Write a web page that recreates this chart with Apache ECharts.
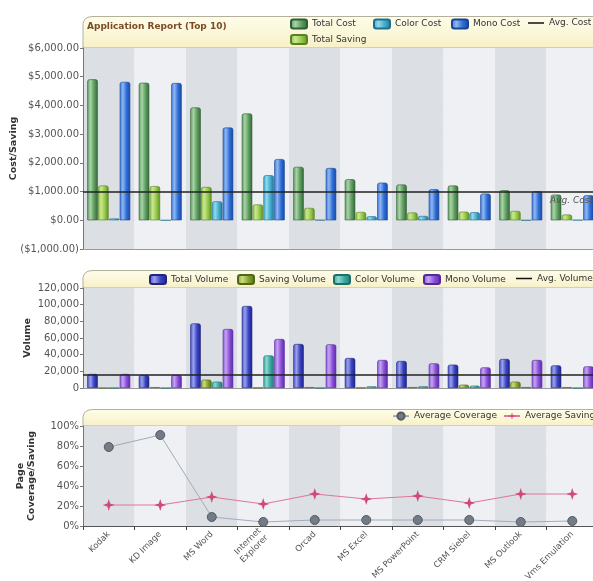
<!DOCTYPE html>
<html><head><meta charset="utf-8">
<script src="https://cdn.jsdelivr.net/npm/echarts@6/dist/echarts.min.js"></script>
<style>html,body{margin:0;padding:0;background:#fff}#c{width:593px;height:581px}</style>
</head><body><div id="c"></div>
<script>
// ---- data ----
const categories = ['Kodak','KD Image','MS Word','Internet\nExplorer','Orcad','MS Excel','MS PowerPoint','CRM Siebel','MS Outlook','Vms Emulation'];
const totalCost   = [4910, 4790, 3930, 3720, 1860, 1430, 1245, 1210, 1045, 895];
const totalSaving = [1210, 1190, 1160, 550, 430, 290, 270, 300, 325, 200];
const colorCost   = [60, 0, 660, 1570, 10, 140, 150, 280, 0, 10];
const monoCost    = [4820, 4780, 3230, 2130, 1820, 1310, 1080, 930, 1010, 870];
const avgCost = 1010;

const totalVolume  = [16800, 15600, 77500, 98400, 52800, 36000, 32400, 28000, 34800, 27200];
const savingVolume = [0, 1000, 10000, 500, 1000, 500, 1000, 4000, 7600, 1000];
const colorVolume  = [0, 0, 7600, 39100, 0, 2000, 2000, 2800, 1000, 0];
const monoVolume   = [16800, 15600, 70800, 58800, 52400, 33600, 29600, 24800, 33600, 26000];
const avgVolume = 16300;

const avgCoverage = [79, 91, 9, 4, 6, 6, 6, 6, 4, 5];
const avgSaving   = [21, 21, 29, 22, 32, 27, 30, 23, 32, 32];

// ---- chart ----
const FONT = 'DejaVu Sans';
const chart = echarts.init(document.getElementById('c'));
function grad(a,b,c,d){return new echarts.graphic.LinearGradient(0,0,1,0,[{offset:0,color:a},{offset:0.3,color:b},{offset:0.65,color:c},{offset:1,color:d}]);}
function commas(s){return s.replace(/\B(?=(\d{3})+(?!\d))/g, ',');}
function money(v){const s='$'+commas(Math.abs(v).toFixed(2)); return v<0?'('+s+')':s;}
function header(y0,y1){
  return {type:'polygon', z:-1, shape:{points:[[83,y1],[83,y0+7],[84.5,y0+3],[88,y0+0.7],[93,y0],[640,y0],[640,y1]]},
    style:{fill:new echarts.graphic.LinearGradient(0,0,0,1,[{offset:0,color:'#fffdeb'},{offset:1,color:'#f7f0c6'}]), stroke:'#b3b19c', lineWidth:1}};
}
const LINE_ICON = 'path://M0,0 L0.05,0 L0,0.05 Z M0,4 L20,4 L20,6 L0,6 Z M20,10 L19.95,10 L20,9.95 Z';
const gbase = {left:83, right:-5, containLabel:false, outerBoundsMode:'none'};
const grids = [
  Object.assign({top:48, height:201}, gbase),
  Object.assign({top:288, height:100}, gbase),
  Object.assign({top:426, height:100}, gbase)
];
function xAx(i, labels){
  return {type:'category', gridIndex:i, data:categories,
    splitArea:{show:true, interval:0, areaStyle:{color:['#dcdfe3','#eef0f3']}},
    axisLine:{onZero:false, lineStyle:{color: labels?'#555':'#999'}},
    axisTick:{show:labels, interval:0, length:4, lineStyle:{color:'#444'}},
    axisLabel: labels ? {show:true, interval:0, rotate:45, fontFamily:FONT, fontSize:8.5, color:'#555', margin:7, lineHeight:10} : {show:false, interval:0}
  };
}
function lab(fmt){return {fontFamily:FONT, fontSize:10, color:'#555', margin:4, formatter:fmt};}
function yAx(i, o){
  return Object.assign({type:'value', gridIndex:i, nameLocation:'middle', nameMoveOverlap:false,
    nameTextStyle:{fontFamily:FONT, fontSize:9.5, fontWeight:'bold', color:'#333', lineHeight:11},
    axisLine:{show:true, lineStyle:{color:'#777'}},
    axisTick:{show:true, length:3, lineStyle:{color:'#777'}},
    splitLine:{lineStyle:{color:'#e0e3e7'}}
  }, o);
}
function bar(name, data, gi, g, border){
  return {name, type:'bar', xAxisIndex:gi, yAxisIndex:gi, data, barWidth:10.5, barGap:'3%',
    itemStyle:{color:g, borderColor:border, borderWidth:0.6, borderRadius:[2,2,0,0]}};
}
function legend(name, left, top, icon){
  return {left, top, padding:0, itemWidth:16, itemHeight:9, selectedMode:false,
    textStyle:{fontFamily:FONT, fontSize:9, color:'#333'},
    data:[icon ? {name, icon} : {name}]};
}
const option = {
  animation:false,
  backgroundColor:'#fff',
  title:{text:'Application Report (Top 10)', left:87, top:22, padding:0,
    textStyle:{fontFamily:FONT, fontSize:9, fontWeight:'bold', color:'#7b4b25'}},
  graphic:[header(16.5,48), header(270.5,288), header(409.5,426)],
  grid:grids,
  xAxis:[xAx(0,false), xAx(1,false), xAx(2,true)],
  yAxis:[
    yAx(0,{min:-1000, max:6000, interval:1000, name:'Cost/Saving', nameGap:64, axisLabel:lab(money)}),
    yAx(1,{min:0, max:120000, interval:20000, name:'Volume', nameGap:50, axisLabel:lab(v=>commas(String(v)))}),
    yAx(2,{min:0, max:100, interval:20, name:'Page\nCoverage/Saving', nameGap:46,
      minorTick:{show:false, splitNumber:4}, minorSplitLine:{show:true, lineStyle:{color:'#e4e6ea'}},
      axisLabel:lab('{value}%')})
  ],
  legend:[
    legend('Total Cost',290,18.5,'roundRect'),
    legend('Color Cost',373,18.5,'roundRect'),
    legend('Mono Cost',451,18.5,'roundRect'),
    legend('Avg. Cost',528,18.5,LINE_ICON),
    legend('Total Saving',290,34,'roundRect'),
    legend('Total Volume',149,274,'roundRect'),
    legend('Saving Volume',237,274,'roundRect'),
    legend('Color Volume',333,274,'roundRect'),
    legend('Mono Volume',423,274,'roundRect'),
    legend('Avg. Volume',516,274,LINE_ICON),
    legend('Average Coverage',392,411.5),
    legend('Average Saving',503,411.5)
  ],
  series:[
    bar('Total Cost', totalCost, 0, grad('#5f9a62','#a9d3a6','#5d9c5f','#33693a'), '#2f5f33'),
    bar('Total Saving', totalSaving, 0, grad('#8dbf48','#cbe88f','#93c84b','#5e8e22'), '#5a7f25'),
    bar('Color Cost', colorCost, 0, grad('#3aa3c2','#93d8ec','#43aecf','#1f7696'), '#1f6f8c'),
    bar('Mono Cost', monoCost, 0, grad('#3a76d6','#8fb7f1','#2e6ed6','#1a48a6'), '#1a4596'),
    {name:'Avg. Cost', type:'line', xAxisIndex:0, yAxisIndex:0, data:[], symbol:'none',
      lineStyle:{color:'#111', width:2}, itemStyle:{color:'#111'},
      markLine:{silent:true, symbol:'none', data:[{yAxis:avgCost}], lineStyle:{color:'#222', width:1.5, type:'solid'},
        label:{show:true, position:'insideEndBottom', formatter:'Avg. Cost', fontFamily:FONT, fontSize:9, fontStyle:'italic', color:'#555'}}},
    bar('Total Volume', totalVolume, 1, grad('#434cc6','#9aa2ec','#3b43c2','#1d2389'), '#1f2580'),
    bar('Saving Volume', savingVolume, 1, grad('#83a02e','#cbdd7e','#86a030','#55701a'), '#4f6818'),
    bar('Color Volume', colorVolume, 1, grad('#38a69e','#8bd8d0','#3aa8a0','#1e7a74'), '#1c6e68'),
    bar('Mono Volume', monoVolume, 1, grad('#8857d6','#c3a4f1','#8a50d8','#5a28a8'), '#55279c'),
    {name:'Avg. Volume', type:'line', xAxisIndex:1, yAxisIndex:1, data:[], symbol:'none',
      lineStyle:{color:'#111', width:2}, itemStyle:{color:'#111'},
      markLine:{silent:true, symbol:'none', data:[{yAxis:avgVolume}], lineStyle:{color:'#222', width:1.5, type:'solid'}, label:{show:false}}},
    {name:'Average Coverage', type:'line', xAxisIndex:2, yAxisIndex:2, data:avgCoverage,
      symbol:'circle', symbolSize:9, lineStyle:{color:'#a4acb8', width:1},
      itemStyle:{color:'#737b86', borderColor:'#555b63', borderWidth:1}},
    {name:'Average Saving', type:'line', xAxisIndex:2, yAxisIndex:2, data:avgSaving,
      symbol:'path://M0,-10 L2.4,-2.4 L10,0 L2.4,2.4 L0,10 L-2.4,2.4 L-10,0 L-2.4,-2.4 Z', symbolSize:12,
      lineStyle:{color:'#e07898', width:1.2}, itemStyle:{color:'#d04a78'}}
  ]
};
chart.setOption(option);
</script>
</body></html>
